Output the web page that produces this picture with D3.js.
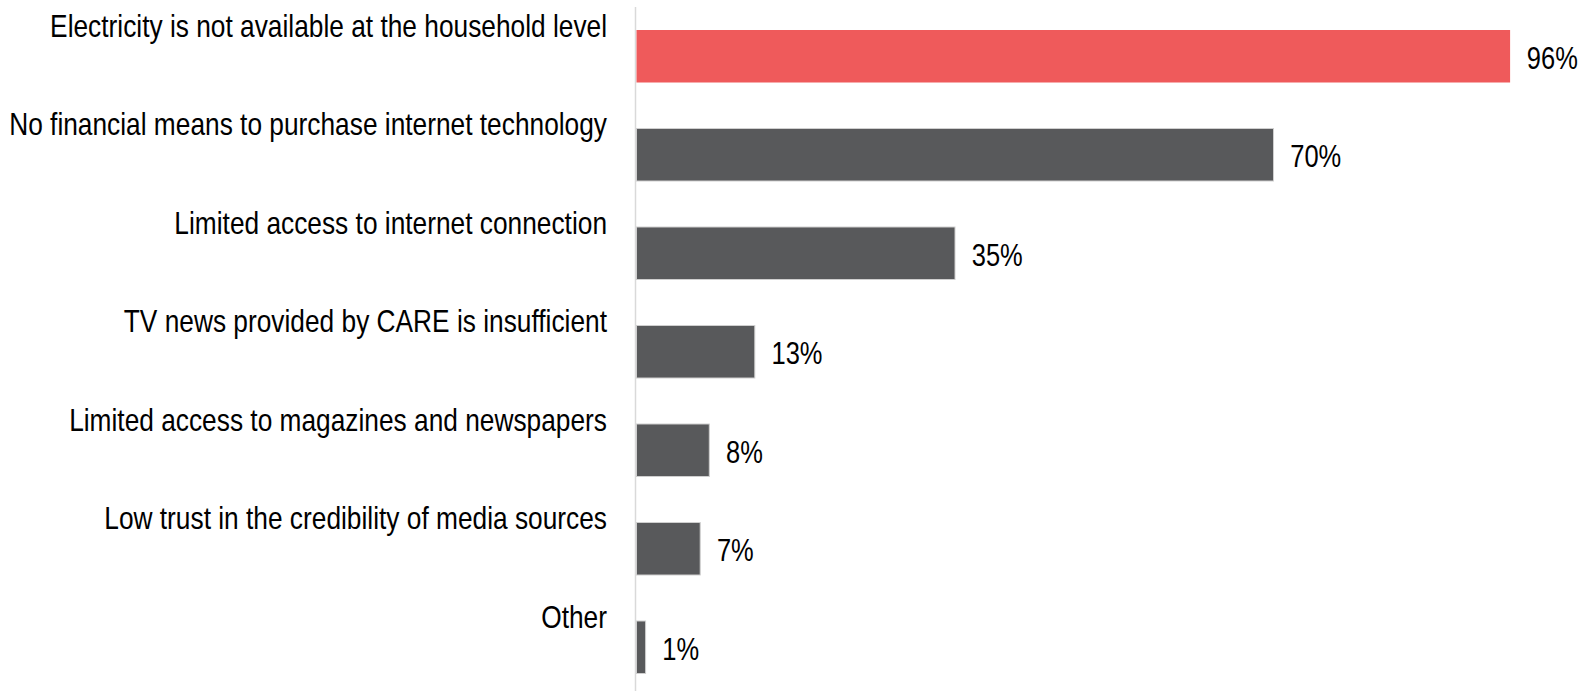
<!DOCTYPE html>
<html>
<head>
<meta charset="utf-8">
<script src="https://cdn.jsdelivr.net/npm/d3@7/dist/d3.min.js"></script>
<style>
  html, body { margin: 0; padding: 0; background: #fff; }
  svg { display: block; }
  text { font-family: "Liberation Sans", Arial, sans-serif; fill: #000; }
</style>
</head>
<body>
<div id="chart"></div>
<script>
// Barriers to accessing information (share of respondents)
const categories = [
  "Electricity is not available at the household level",
  "No financial means to purchase internet technology",
  "Limited access to internet connection",
  "TV news provided by CARE is insufficient",
  "Limited access to magazines and newspapers",
  "Low trust in the credibility of media sources",
  "Other"
];
const values = [96, 70, 35, 13, 8, 7, 1];
const highlighted = [true, false, false, false, false, false, false];

const width = 1586, height = 691;
const x0 = 636.5;

const svg = d3.select("#chart").append("svg")
  .attr("width", width)
  .attr("height", height);

const x = d3.scaleLinear().domain([0, 100]).range([x0, x0 + 910]);
const y = d3.scaleBand()
  .domain(categories)
  .range([7, 696.5])
  .paddingInner(0.467)
  .paddingOuter(0.2335);

const rows = categories.map((c, i) => ({ cat: c, value: values[i], hi: highlighted[i] }));

// vertical baseline
svg.append("line")
  .attr("x1", x0 - 1).attr("x2", x0 - 1)
  .attr("y1", 7).attr("y2", height)
  .attr("stroke", "#d9d9d9")
  .attr("stroke-width", 1.5);

// bars
svg.selectAll("rect.bar")
  .data(rows)
  .join("rect")
  .attr("class", "bar")
  .attr("x", x(0))
  .attr("y", d => y(d.cat))
  .attr("width", d => x(d.value) - x(0))
  .attr("height", y.bandwidth())
  .attr("fill", d => d.hi ? "#ef5a5b" : "#58595b")
  .attr("stroke", d => d.hi ? "none" : "#cfcfcf")
  .attr("stroke-width", 1);

// category labels, right-aligned above each bar
svg.selectAll("text.cat")
  .data(rows)
  .join("text")
  .attr("class", "cat")
  .attr("text-anchor", "end")
  .attr("font-size", "26.3px")
  .attr("transform", d => `translate(607,${y(d.cat) + 6.7}) scale(1,1.197)`)
  .text(d => d.cat);

// value labels
svg.selectAll("text.val")
  .data(rows)
  .join("text")
  .attr("class", "val")
  .attr("text-anchor", "start")
  .attr("font-size", "25.5px")
  .attr("transform", d => `translate(${x(d.value) + 16.7},${y(d.cat) + 39}) scale(1,1.22)`)
  .text(d => d.value + "%");
</script>
</body>
</html>
